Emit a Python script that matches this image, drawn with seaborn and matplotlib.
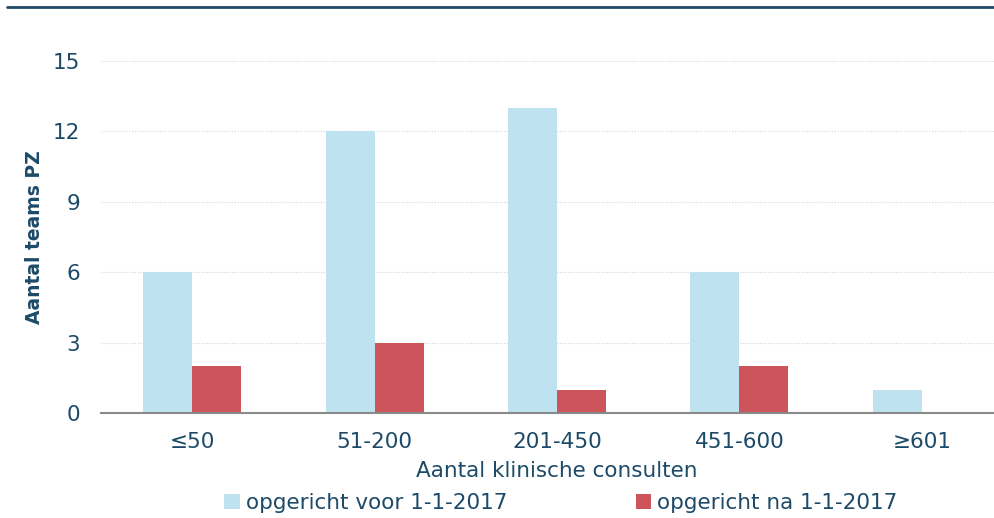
import matplotlib
matplotlib.use("Agg")
import matplotlib.pyplot as plt
import seaborn as sns
import pandas as pd
from matplotlib.lines import Line2D

categories = ["≤50", "51-200", "201-450", "451-600", "≥601"]
series_names = ["opgericht voor 1-1-2017", "opgericht na 1-1-2017"]
voor_values = [6, 12, 13, 6, 1]
na_values = [2, 3, 1, 2, 0]
yticks = [0, 3, 6, 9, 12, 15]

colors = ["#BEE2F0", "#CD545A"]
text_color = "#1C4A68"

df = pd.DataFrame({
    "cat": categories * 2,
    "val": voor_values + na_values,
    "serie": [series_names[0]] * len(categories) + [series_names[1]] * len(categories),
})

sns.set_style("white")
plt.rcParams["font.family"] = ["DejaVu Sans"]

fig = plt.figure(figsize=(9.94, 5.18), dpi=100)
ax = fig.add_axes([101 / 994, 1 - 413 / 518, (1013 - 101) / 994, (413 - 61) / 518])

sns.barplot(data=df, x="cat", y="val", hue="serie", order=categories,
            hue_order=series_names, palette=colors, width=0.537,
            linewidth=0, saturation=1, ax=ax, legend=True)

ax.set_xlim(-0.5, 4.5)
ax.set_ylim(0, 15)
ax.set_yticks(yticks)
ax.set_yticklabels([str(v) for v in yticks])
ax.grid(axis="y", color="#D4D4D4", linestyle=(0, (1, 1.5)), linewidth=0.8)
ax.set_axisbelow(True)

for s in ["top", "right", "left"]:
    ax.spines[s].set_visible(False)
ax.spines["bottom"].set_color("#8A8A8A")
ax.spines["bottom"].set_linewidth(1.5)

ax.tick_params(axis="x", which="major", length=0, pad=14, labelsize=15.5, labelcolor=text_color)
ax.set_xticks([i - 0.5 for i in range(6)], minor=True)
ax.tick_params(axis="x", which="minor", length=6, width=1.3, color="#8A8A8A", direction="out")
ax.tick_params(axis="y", length=0, pad=15, labelsize=15.5, labelcolor=text_color)

ax.set_xlabel("Aantal klinische consulten", fontsize=15.5, color=text_color, labelpad=6)
ax.set_ylabel("Aantal teams PZ", fontsize=13.5, fontweight="bold", color=text_color, labelpad=6)

leg = ax.get_legend()
handles, labels = ax.get_legend_handles_labels()
leg.remove()
fig.legend(handles, labels, loc="center", bbox_to_anchor=(561 / 994, 1 - 503 / 518),
           ncol=2, frameon=False, fontsize=15.5, labelcolor=text_color,
           handlelength=0.7, handleheight=0.7, handletextpad=0.3, columnspacing=5.95,
           borderaxespad=0)

fig.add_artist(Line2D([7 / 994, 1.0], [1 - 7 / 518, 1 - 7 / 518], transform=fig.transFigure,
                      color="#1F4A66", linewidth=2))

fig.savefig("out.png", dpi=100)
